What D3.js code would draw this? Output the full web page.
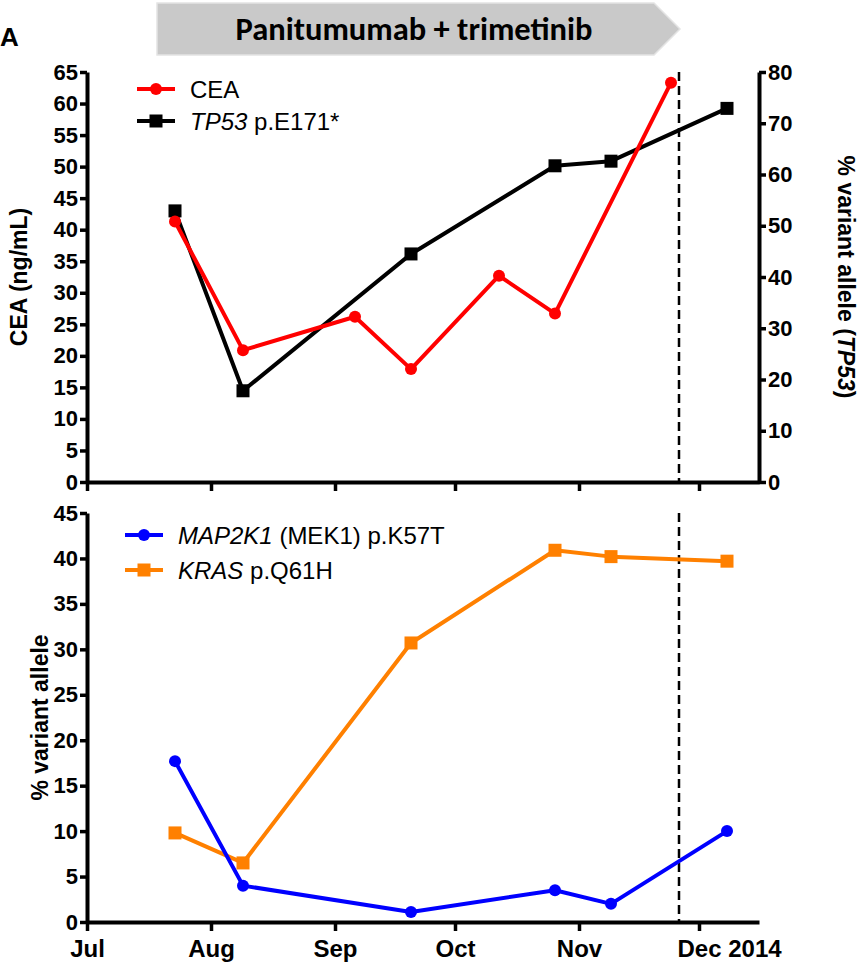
<!DOCTYPE html>
<html>
<head>
<meta charset="utf-8">
<script src="https://cdnjs.cloudflare.com/ajax/libs/d3/7.8.5/d3.min.js"></script>
<style>
  body { margin: 0; background: #fff; }
</style>
</head>
<body>
<div id="chart"></div>
<script>
var parse = d3.timeParse('%Y-%m-%d');

var ceaDates = ['2014-07-23', '2014-08-09', '2014-09-06', '2014-09-20', '2014-10-12', '2014-10-26', '2014-11-24'];
var ceaValues = [41.3, 20.9, 26.2, 17.9, 32.7, 26.7, 63.3];

var vafDates = ['2014-07-23', '2014-08-09', '2014-09-20', '2014-10-26', '2014-11-09', '2014-12-08'];
var tp53Values = [52.9, 17.8, 44.5, 61.7, 62.6, 72.9];
var map2k1Values = [17.7, 4.0, 1.1, 3.5, 2.0, 10.0];
var krasValues = [9.8, 6.5, 30.7, 40.9, 40.2, 39.7];

var monthTicks = ['2014-07-01', '2014-08-01', '2014-09-01', '2014-10-01', '2014-11-01', '2014-12-01'];
var monthLabels = ['Jul', 'Aug', 'Sep', 'Oct', 'Nov', 'Dec'];
var yearLabel = ' 2014';
var stopDate = '2014-11-26';

var ceaTicks = d3.range(0, 66, 5);
var tp53Ticks = d3.range(0, 81, 10);
var vafTicks = d3.range(0, 46, 5);

var width = 865, height = 969;
var left = 87, right = 759;
var top1 = 72, bottom1 = 482, top2 = 513, bottom2 = 922;
var font = '"Liberation Sans", Arimo, Arial, sans-serif';

var svg = d3.select('#chart').append('svg')
    .attr('width', width)
    .attr('height', height);

var x = d3.scaleTime()
    .domain([parse('2014-07-01'), parse('2014-12-16')])
    .range([left, right]);

var yCea = d3.scaleLinear().domain([0, 65]).range([bottom1, top1]);
var yTp53 = d3.scaleLinear().domain([0, 80]).range([bottom1, top1]);
var yVaf = d3.scaleLinear().domain([0, 45]).range([bottom2, top2]);

function rows(dates, values) {
    return dates.map(function (d, i) { return { date: parse(d), value: values[i] }; });
}

function styleAxis(g, fontSize) {
    g.attr('font-family', null);
    g.select('.domain').attr('stroke', '#000').attr('stroke-width', 4);
    g.selectAll('.tick line').attr('stroke', '#000').attr('stroke-width', 3.5);
    g.selectAll('.tick text')
        .attr('fill', '#000')
        .style('font-family', font)
        .style('font-size', fontSize + 'px')
        .style('font-weight', 'bold');
}

// header arrow
var arrow = d3.path();
arrow.moveTo(157, 3);
arrow.lineTo(654, 3);
arrow.lineTo(680, 29);
arrow.lineTo(654, 55);
arrow.lineTo(157, 55);
arrow.closePath();
svg.append('path')
    .attr('d', arrow.toString())
    .attr('fill', '#c9c9c9')
    .attr('stroke', '#e4e4e4')
    .attr('stroke-width', 1.5);
svg.append('text')
    .attr('x', 414)
    .attr('y', 40)
    .attr('text-anchor', 'middle')
    .style('font-family', 'Carlito, Lato, sans-serif')
    .style('font-size', '32.5px')
    .style('font-weight', 'bold')
    .text('Panitumumab + trimetinib');

svg.append('text')
    .attr('x', 0)
    .attr('y', 46)
    .style('font-family', font)
    .style('font-size', '26px')
    .style('font-weight', 'bold')
    .text('A');

// dashed stop line
[[top1, bottom1], [top2, bottom2]].forEach(function (r) {
    svg.append('line')
        .attr('x1', x(parse(stopDate))).attr('x2', x(parse(stopDate)))
        .attr('y1', r[0]).attr('y2', r[1])
        .attr('stroke', '#000')
        .attr('stroke-width', 2.5)
        .attr('stroke-dasharray', '9,5');
});

// axes, top panel
var monthDates = monthTicks.map(parse);

svg.append('g')
    .attr('transform', 'translate(0,' + bottom1 + ')')
    .call(d3.axisBottom(x).tickValues(monthDates).tickSize(9).tickSizeOuter(0).tickFormat(''))
    .call(styleAxis, 22);

svg.append('g')
    .attr('transform', 'translate(' + left + ',0)')
    .call(d3.axisLeft(yCea).tickValues(ceaTicks).tickSize(7).tickSizeOuter(0).tickPadding(2))
    .call(styleAxis, 22);

svg.append('g')
    .attr('transform', 'translate(' + right + ',0)')
    .call(d3.axisRight(yTp53).tickValues(tp53Ticks).tickSize(7).tickSizeOuter(0).tickPadding(2))
    .call(styleAxis, 22);

// axes, bottom panel
var xAxis2 = svg.append('g')
    .attr('transform', 'translate(0,' + bottom2 + ')')
    .call(d3.axisBottom(x).tickValues(monthDates).tickSize(9).tickSizeOuter(0).tickPadding(9)
        .tickFormat(function (d, i) { return monthLabels[i]; }))
    .call(styleAxis, 24);

// year sits after the last month, month itself stays centred on its tick
xAxis2.selectAll('.tick text')
    .filter(function (d, i) { return i == monthLabels.length - 1; })
    .each(function () {
        var t = d3.select(this);
        var w = this.getComputedTextLength();
        t.attr('text-anchor', 'start').attr('x', -w / 2);
        t.append('tspan').text(yearLabel);
    });

svg.append('g')
    .attr('transform', 'translate(' + left + ',0)')
    .call(d3.axisLeft(yVaf).tickValues(vafTicks).tickSize(7).tickSizeOuter(0).tickPadding(2))
    .call(styleAxis, 22);

// axis titles
function title(tx, ty, angle) {
    return svg.append('text')
        .attr('transform', 'translate(' + tx + ',' + ty + ') rotate(' + angle + ')')
        .attr('text-anchor', 'middle')
        .style('font-family', font)
        .style('font-size', '23px')
        .style('font-weight', 'bold');
}

title(27, (top1 + bottom1) / 2, -90).text('CEA (ng/mL)');

var rt = title(838, (top1 + bottom1) / 2, 90);
rt.append('tspan').text('% variant allele (');
rt.append('tspan').style('font-style', 'italic').text('TP53');
rt.append('tspan').text(')');

title(48, (top2 + bottom2) / 2, -90).text('% variant allele');

// series
function drawMarkers(g, pts, color, shape) {
    if (shape == 'circle') {
        g.selectAll(null).data(pts).enter()
            .append('circle')
            .attr('cx', function (p) { return p[0]; })
            .attr('cy', function (p) { return p[1]; })
            .attr('r', 6)
            .attr('fill', color);
    } else {
        g.selectAll(null).data(pts).enter()
            .append('rect')
            .attr('x', function (p) { return p[0] - 6.5; })
            .attr('y', function (p) { return p[1] - 6.5; })
            .attr('width', 13)
            .attr('height', 13)
            .attr('fill', color);
    }
}

function drawSeries(data, y, color, shape) {
    var line = d3.line()
        .x(function (d) { return x(d.date); })
        .y(function (d) { return y(d.value); });
    svg.append('path')
        .datum(data)
        .attr('d', line)
        .attr('fill', 'none')
        .attr('stroke', color)
        .attr('stroke-width', 4)
        .attr('stroke-linejoin', 'round');
    drawMarkers(svg, data.map(function (d) { return [x(d.date), y(d.value)]; }), color, shape);
}

drawSeries(rows(vafDates, tp53Values), yTp53, '#000', 'square');
drawSeries(rows(ceaDates, ceaValues), yCea, '#ff0000', 'circle');
drawSeries(rows(vafDates, krasValues), yVaf, '#ff8000', 'square');
drawSeries(rows(vafDates, map2k1Values), yVaf, '#0000ff', 'circle');

// legends
function legendItem(lx, ly, color, shape, parts) {
    svg.append('line')
        .attr('x1', lx).attr('x2', lx + 38)
        .attr('y1', ly).attr('y2', ly)
        .attr('stroke', color)
        .attr('stroke-width', 4);
    drawMarkers(svg, [[lx + 19, ly]], color, shape);
    var t = svg.append('text')
        .attr('x', lx + 53)
        .attr('y', ly + 8.5)
        .style('font-family', font)
        .style('font-size', '24px');
    parts.forEach(function (p) {
        t.append('tspan').style('font-style', p[1] ? 'italic' : 'normal').text(p[0]);
    });
}

legendItem(137, 89, '#ff0000', 'circle', [['CEA', false]]);
legendItem(137, 121, '#000', 'square', [['TP53', true], [' p.E171*', false]]);
legendItem(125, 535, '#0000ff', 'circle', [['MAP2K1', true], [' (MEK1) p.K57T', false]]);
legendItem(125, 570, '#ff8000', 'square', [['KRAS', true], [' p.Q61H', false]]);
</script>
</body>
</html>
